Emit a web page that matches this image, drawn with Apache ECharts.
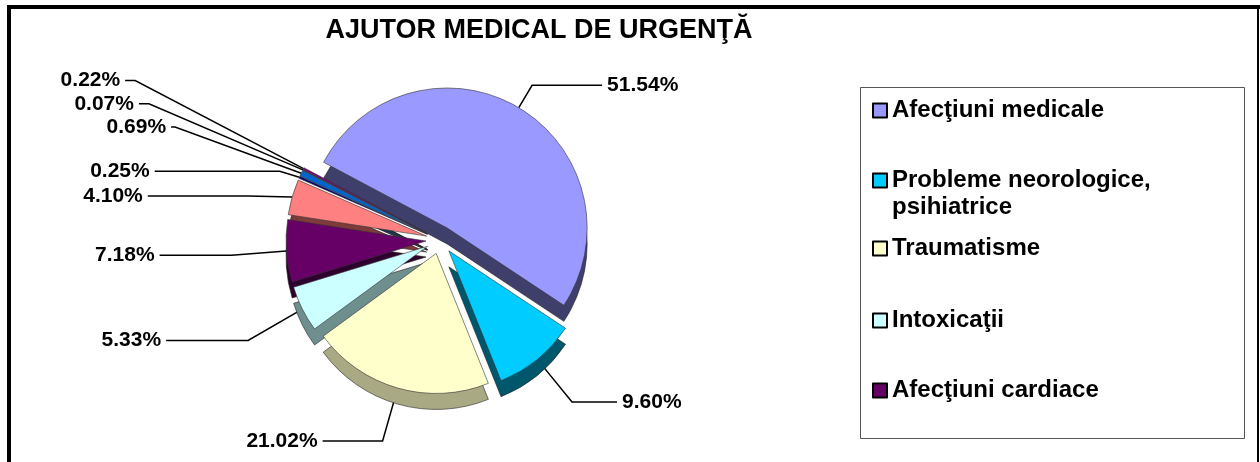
<!DOCTYPE html>
<html>
<head>
<meta charset="utf-8">
<title>Ajutor medical de urgenta</title>
<script src="https://cdn.jsdelivr.net/npm/echarts@6/dist/echarts.min.js"></script>
<style>
  html, body { margin: 0; padding: 0; background: #fff; }
  #chart { width: 1260px; height: 462px; }
</style>
</head>
<body>
<div id="chart"></div>
<script>
// slice names, clockwise from the start angle (only first five are in the legend)
const categories = [
  'Afecţiuni medicale',
  'Probleme neorologice, psihiatrice',
  'Traumatisme',
  'Intoxicaţii',
  'Afecţiuni cardiace',
  'Categoria 6',
  'Categoria 7',
  'Categoria 8',
  'Categoria 9',
  'Categoria 10'
]
const legendNames = categories.slice(0, 5)

// percentages
const values = [51.54, 9.60, 21.02, 5.33, 7.18, 4.10, 0.25, 0.69, 0.07, 0.22]

const topColors  = ['#9999FF', '#00CCFF', '#FFFFCC', '#CCFFFF', '#660066', '#FF8080', '#000080', '#0066CC', '#333366', '#800080']
const sideColors = ['#3F3F6B', '#00566B', '#A9A983', '#6F8F8F', '#2E002E', '#7F3A3A', '#00003A', '#003366', '#1A1A33', '#400040']

// leader lines per slice: slanted part, then horizontal part (tuned by eye)
const lineLengths  = [26, 55, 55, 70, 60, 45, 15, 130, 165, 190]
const lineLengths2 = [70, 45, 60, 82, 72, 100, 125, 4, 10, 10]

const font = 'Liberation Sans, Arial, sans-serif'
const cx = 440
const cy = 240
const radius = 140
const depth = 16

const chart = echarts.init(document.getElementById('chart'), null, { renderer: 'canvas' })

function pieData(colors, withLabel) {
  return categories.map((name, i) => ({
    name: name,
    value: values[i],
    selected: true,
    itemStyle: { color: colors[i] },
    label: { show: withLabel },
    labelLine: { length: lineLengths[i], length2: lineLengths2[i] }
  }))
}

// one legend per visible entry so spacing can follow the original box
const legendTops = [97, 167, 235, 307, 377]
const legends = legendNames.map((name, i) => {
  const twoLine = name.indexOf(', ') >= 0
  return {
    data: [{ name: name, itemStyle: { color: topColors[i] } }],
    left: 872,
    top: legendTops[i],
    padding: 0,
    // two-line entry: square sits at the top of a taller icon box
    icon: twoLine ? 'path://M0,0H14V14H0Z M0,41' : 'rect',
    itemWidth: 14,
    itemHeight: twoLine ? 41 : 14,
    selectedMode: false,
    itemStyle: { borderColor: '#000', borderWidth: 2 },
    formatter: (n) => n.replace(', ', ',\n'),
    textStyle: {
      fontFamily: font,
      fontWeight: 'bold',
      fontSize: 24,
      color: '#000',
      lineHeight: 27
    }
  }
})

const option = {
  animation: false,
  backgroundColor: '#fff',
  title: {
    text: 'AJUTOR MEDICAL DE URGENŢĂ',
    left: 534,
    textAlign: 'center',
    top: 12,
    textStyle: { fontFamily: font, fontWeight: 'bold', fontSize: 27, color: '#000' }
  },
  legend: legends,
  graphic: [
    { type: 'line', shape: { x1: 7, y1: 7, x2: 1260, y2: 7 }, style: { stroke: '#000', lineWidth: 4 } },
    { type: 'line', shape: { x1: 9, y1: 5, x2: 9, y2: 462 }, style: { stroke: '#000', lineWidth: 4 } },
    { type: 'line', shape: { x1: 1258, y1: 5, x2: 1258, y2: 462 }, style: { stroke: '#000', lineWidth: 2 } },
    { type: 'rect', shape: { x: 860.5, y: 87.5, width: 384, height: 351 }, style: { fill: 'none', stroke: '#555', lineWidth: 1 }, z: -1 }
  ],
  series: [
    {
      // darker copy below gives the disc its thickness
      name: 'side',
      type: 'pie',
      center: [cx, cy + depth],
      radius: [0, radius],
      startAngle: 152,
      clockwise: true,
      selectedMode: 'multiple',
      selectedOffset: 14,
      silent: true,
      avoidLabelOverlap: false,
      emphasis: { disabled: true },
      itemStyle: { borderColor: '#222', borderWidth: 0.6 },
      label: { show: false },
      labelLine: { show: false },
      data: pieData(sideColors, false)
    },
    {
      name: 'AJUTOR MEDICAL DE URGENŢĂ',
      type: 'pie',
      center: [cx, cy],
      radius: [0, radius],
      startAngle: 152,
      clockwise: true,
      selectedMode: 'multiple',
      selectedOffset: 14,
      silent: true,
      emphasis: { disabled: true },
      itemStyle: { borderColor: '#333', borderWidth: 0.6 },
      label: {
        show: true,
        position: 'outside',
        formatter: (p) => p.value.toFixed(2) + '%',
        fontFamily: font,
        fontWeight: 'bold',
        fontSize: 21,
        color: '#000'
      },
      labelLine: {
        show: true,
        lineStyle: { color: '#000', width: 1.5 }
      },
      data: pieData(topColors, true)
    }
  ]
}

chart.setOption(option)
</script>
</body>
</html>
